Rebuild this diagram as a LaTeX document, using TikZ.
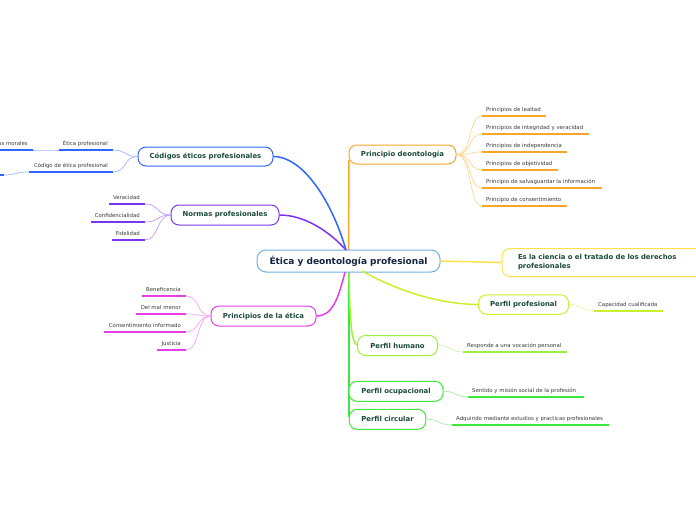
\documentclass[tikz,border=0pt]{standalone}
\usepackage{fontspec}
\setmainfont{DejaVu Sans}
\definecolor{cblue}{HTML}{2F66FF}
\definecolor{lblue}{HTML}{9DB8FF}
\definecolor{cpurple}{HTML}{7B35F0}
\definecolor{lpurple}{HTML}{BE9BFA}
\definecolor{cmag}{HTML}{E23FE6}
\definecolor{lmag}{HTML}{F3A6F5}
\definecolor{corange}{HTML}{F7A62A}
\definecolor{lorange}{HTML}{FDD693}
\definecolor{cyellow}{HTML}{FFE24A}
\definecolor{cyg}{HTML}{C8F02C}
\definecolor{lyg}{HTML}{E3F8A3}
\definecolor{clg}{HTML}{9EF03C}
\definecolor{llg}{HTML}{CDF7A5}
\definecolor{cgreen}{HTML}{3DE83D}
\definecolor{lgreen}{HTML}{A8F0A8}
\definecolor{ccentral}{HTML}{74AEE2}
\definecolor{nodetext}{HTML}{1C4A3C}
\definecolor{centtext}{HTML}{14243F}
\definecolor{subtext}{HTML}{3A3A3A}
\tikzset{
 mainbox/.style={draw, line width=1pt, rounded corners=8pt, fill=white, inner sep=0pt,
   font=\fontsize{6.9}{8.5}\selectfont\bfseries, text=nodetext},
 subtxt/.style={inner sep=0pt, font=\fontsize{5.4}{6.5}\selectfont, text=subtext},
 uline/.style={line width=1.4pt},
 mconn/.style={line width=1.5pt},
 sconn/.style={line width=0.7pt},
}
\newcommand\rsub[6]{%
 \coordinate (#1a) at (#2,#4); \coordinate (#1b) at (#3,#4);
 \draw[uline,draw=#6] (#1a) -- (#1b);
 \node[subtxt,anchor=base west,xshift=4pt,yshift=4.8pt] (#1t) at (#1a) {#5};}
\newcommand\lsub[6]{%
 \coordinate (#1a) at (#2,#4); \coordinate (#1b) at (#3,#4);
 \draw[uline,draw=#6] (#1a) -- (#1b);
 \node[subtxt,anchor=base east,xshift=-5pt,yshift=4.8pt] (#1t) at (#1b) {#5};}
\begin{document}
\begin{tikzpicture}[x=1pt,y=-1pt]
\useasboundingbox (0,0) rectangle (696,520);
\clip (0,0) rectangle (696,520);
% hub coordinates
\coordinate (hubT) at (346,250);
\coordinate (hubO) at (348.5,250);
\coordinate (hubB) at (345,272);
\coordinate (hubG) at (349,272);
\coordinate (hubY) at (362,271);
\coordinate (gEnd) at (349,417);
% main connectors (drawn first)
\draw[mconn,cgreen,line width=2pt] (hubG) -- (gEnd);
\draw[mconn,clg] (hubG) .. controls (350,320) and (351,345) .. (358,345) coordinate (humIn);
\draw[mconn,corange] (hubO) -- (349,160) coordinate (deoIn);
% central node
\node[draw=ccentral, line width=1pt, rounded corners=9pt, fill=white, inner sep=0pt,
  minimum width=183pt, minimum height=22pt, font=\fontsize{9}{11}\selectfont\bfseries, text=centtext]
  (cen) at (348.5,261) {Ética y deontología profesional};
% main nodes
\node[mainbox, draw=cblue, minimum width=135pt, minimum height=19pt] (cod) at (205.5,156.5) {Códigos éticos profesionales};
\node[mainbox, draw=cpurple, minimum width=108pt, minimum height=20pt] (nor) at (225,215) {Normas profesionales};
\node[mainbox, draw=cmag, minimum width=105pt, minimum height=20pt] (pri) at (263.5,316) {Principios de la ética};
\node[mainbox, draw=corange, minimum width=107pt, minimum height=19pt] (deo) at (402.5,154.5) {Principio deontología};
\node[mainbox, draw=cyellow, minimum height=28pt, anchor=west, align=left,
  text width=190pt, inner xsep=16pt, font=\fontsize{6.9}{9}\selectfont\bfseries] (cie) at (501.5,262.5) {Es la ciencia o el tratado de los derechos\\profesionales};
\node[mainbox, draw=cyg, minimum width=90pt, minimum height=19.5pt] (pro) at (523.5,304.5) {Perfil profesional};
\node[mainbox, draw=clg, minimum width=80pt, minimum height=20pt] (hum) at (397.5,345.5) {Perfil humano};
\node[mainbox, draw=cgreen, minimum width=94pt, minimum height=20pt] (ocu) at (396,391.3) {Perfil ocupacional};
\node[mainbox, draw=cgreen, minimum width=76.5pt, minimum height=20pt] (cir) at (387.5,419.3) {Perfil circular};
% main curves to hub
\draw[mconn,cblue] (cod.east) .. controls (305,157) and (333,205) .. (hubT);
\draw[mconn,cpurple] (nor.east) .. controls (305,215) and (330,232) .. (hubT);
\draw[mconn,cmag] (pri.east) .. controls (332,316) and (338,300) .. (hubB);
\draw[mconn,cyellow] (cen.east) -- (cie.west);
\draw[mconn,cyg] (hubY) .. controls (400,292) and (440,304) .. (pro.west);
% Principio deontologia children
\rsub{d1}{482}{546}{116}{Principios de lealtad}{corange}
\rsub{d2}{482}{589}{134}{Principios de integridad y veracidad}{corange}
\rsub{d3}{482}{567}{152}{Principios de independencia}{corange}
\rsub{d4}{482}{558}{170}{Principios de objetividad}{corange}
\rsub{d5}{482}{602}{188}{Principio de salvaguardar la información}{corange}
\rsub{d6}{482}{567}{206}{Principio de consentimiento}{corange}
\foreach \nm in {d1,d2,d3,d4,d5,d6}{
  \draw[sconn,lorange] (deo.east) .. controls +(16,0) and +(-14,0) .. (\nm a);}
% Codigos children
\lsub{c1}{59}{113}{150}{Ética profesional}{cblue}
\lsub{c2}{29}{113}{172}{Código de ética profesional}{cblue}
\lsub{c3}{-40}{33}{150}{Normas morales}{cblue}
\coordinate (c4b) at (4,175); \coordinate (c4a) at (-40,175);
\draw[uline,draw=cblue] (c4a) -- (c4b);
\draw[sconn,lblue] (cod.west) .. controls +(-14,0) and +(14,0) .. (c1b);
\draw[sconn,lblue] (cod.west) .. controls +(-14,0) and +(14,0) .. (c2b);
\draw[sconn,lblue] (c1a) .. controls +(-14,0) and +(12,0) .. (c3b);
\draw[sconn,lblue] (c2a) .. controls +(-14,0) and +(12,0) .. (c4b);
% Normas children
\lsub{n1}{109}{145}{204}{Veracidad}{cpurple}
\lsub{n2}{91}{145}{222}{Confidencialidad}{cpurple}
\lsub{n3}{112}{145}{240}{Fidelidad}{cpurple}
\foreach \nm in {n1,n2,n3}{
  \draw[sconn,lpurple] (nor.west) .. controls +(-14,0) and +(14,0) .. (\nm b);}
% Principios children
\lsub{p1}{142}{186}{296}{Beneficencia}{cmag}
\lsub{p2}{136}{186}{314}{Del mal menor}{cmag}
\lsub{p3}{104}{186}{332}{Consentimiento informado}{cmag}
\lsub{p4}{157}{186}{350}{Justicia}{cmag}
\foreach \nm in {p1,p2,p3,p4}{
  \draw[sconn,lmag] (pri.west) .. controls +(-14,0) and +(14,0) .. (\nm b);}
% Perfil children
\rsub{f1}{594}{663}{311}{Capacidad cualificada}{cyg}
\draw[sconn,lyg] (pro.east) .. controls +(14,0) and +(-14,0) .. (f1a);
\rsub{f2}{463}{567}{352}{Responde a una vocación personal}{clg}
\draw[sconn,llg] (hum.east) .. controls +(14,0) and +(-14,0) .. (f2a);
\rsub{f3}{468}{584}{397}{Sentido y misión social de la profesión}{cgreen}
\draw[sconn,lgreen] (ocu.east) .. controls +(14,0) and +(-14,0) .. (f3a);
\rsub{f4}{452}{609}{425}{Adquirido mediante estudios y practicas profesionales}{cgreen}
\draw[sconn,lgreen] (cir.east) .. controls +(14,0) and +(-14,0) .. (f4a);
\end{tikzpicture}
\end{document}
